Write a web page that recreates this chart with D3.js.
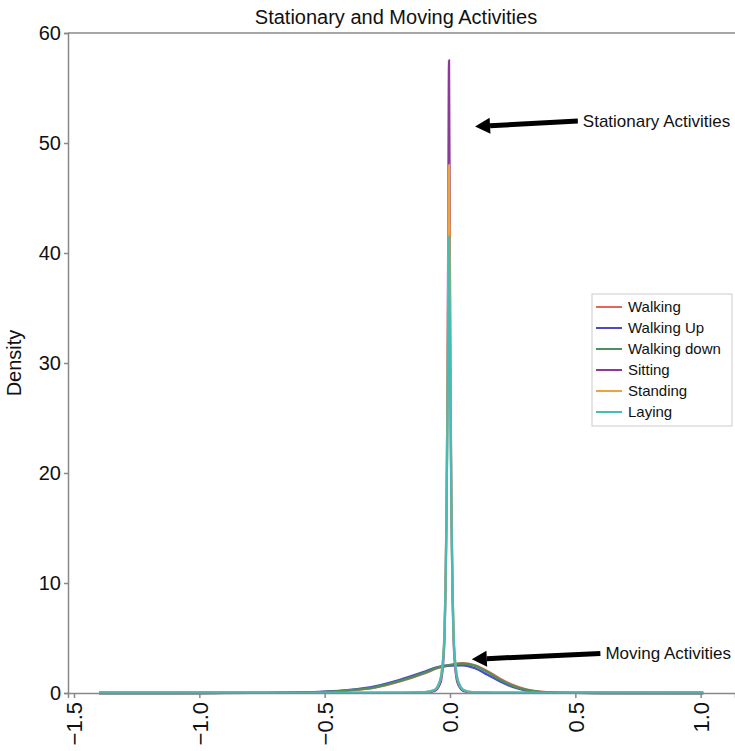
<!DOCTYPE html>
<html>
<head>
<meta charset="utf-8">
<script src="https://cdn.jsdelivr.net/npm/d3@7"></script>
<style>
body { margin: 0; background: #fff; }
svg { display: block; font-family: "Liberation Sans", Arial, sans-serif; }
</style>
</head>
<body>
<div id="chart"></div>
<script>
// series names, in legend order
var seriesNames = ["Walking", "Walking Up", "Walking down", "Sitting", "Standing", "Laying"];
var seriesColors = ["#e0675a", "#4b4bc4", "#4f8f5a", "#8b3a96", "#f0a23c", "#44bdb8"];

// moving activities, density
var moveX = [-1.4, -1.0, -0.8, -0.6, -0.5, -0.4, -0.3, -0.2, -0.1, -0.05, 0, 0.05, 0.1, 0.15, 0.2, 0.25, 0.3, 0.35, 0.4, 0.5, 0.7, 1.01];
var walking     = [0, 0, 0.01, 0.04, 0.1, 0.24, 0.5, 1.05, 1.8, 2.25, 2.52, 2.72, 2.52, 1.98, 1.3, 0.74, 0.35, 0.15, 0.06, 0.01, 0, 0];
var walkingUp   = [0, 0, 0.01, 0.05, 0.12, 0.28, 0.6, 1.2, 1.95, 2.35, 2.5, 2.52, 2.25, 1.65, 1.05, 0.55, 0.25, 0.1, 0.04, 0.01, 0, 0];
var walkingDown = [0, 0, 0.01, 0.04, 0.1, 0.25, 0.52, 1.1, 1.85, 2.3, 2.55, 2.66, 2.46, 1.9, 1.2, 0.65, 0.3, 0.12, 0.05, 0.01, 0, 0];

// stationary activities, very narrow peaks round zero
var statX = [-1.4, -0.5, -0.2, -0.1, -0.06, -0.045, -0.035, -0.028, -0.022, -0.018, -0.014, -0.01, -0.007, -0.004, -0.001, 0.002, 0.006, 0.01, 0.014, 0.02, 0.027, 0.037, 0.052, 0.09, 0.2, 0.5, 1.01];
var sitting  = [0, 0.01, 0.02, 0.05, 0.2, 0.6, 1.2, 2.5, 5, 9, 16, 28, 42, 57.5, 42, 28, 16, 9, 5, 2.5, 1.2, 0.6, 0.2, 0.05, 0.02, 0.01, 0];
var standing = [0, 0.01, 0.03, 0.08, 0.3, 0.8, 1.6, 3, 5.5, 9.5, 16.5, 27, 38, 48, 38, 27, 16.5, 9.5, 5.5, 3, 1.6, 0.8, 0.3, 0.08, 0.03, 0.01, 0];
var laying   = [0, 0.01, 0.03, 0.08, 0.3, 0.8, 1.6, 3, 5.5, 9.5, 16, 25, 34, 41.5, 34, 25, 16, 9.5, 5.5, 3, 1.6, 0.8, 0.3, 0.08, 0.03, 0.01, 0];

var xTicks = [-1.5, -1.0, -0.5, 0.0, 0.5, 1.0];
var yTicks = [0, 10, 20, 30, 40, 50, 60];

// annotations: [label, tail x, tail y, tip x, tip y]
var notes = [
    ["Stationary Activities", 0.51, 52.0, 0.1, 51.5],
    ["Moving Activities", 0.6, 3.6, 0.087, 3.06]
];

var width = 735, height = 751;
var margin = {top: 33, right: 0, bottom: 58, left: 68};

var series = [
    {name: seriesNames[0], xs: moveX, ys: walking},
    {name: seriesNames[1], xs: moveX, ys: walkingUp},
    {name: seriesNames[2], xs: moveX, ys: walkingDown},
    {name: seriesNames[3], xs: statX, ys: sitting},
    {name: seriesNames[4], xs: statX, ys: standing},
    {name: seriesNames[5], xs: statX, ys: laying}
];

var x = d3.scaleLinear().domain([-1.524, 1.137]).range([margin.left, width - margin.right]);
var y = d3.scaleLinear().domain([0, 60]).range([height - margin.bottom, margin.top]);
var color = d3.scaleOrdinal().domain(seriesNames).range(seriesColors);

var svg = d3.select("#chart").append("svg")
    .attr("width", width)
    .attr("height", height);

// frame
svg.append("line")
    .attr("x1", margin.left).attr("x2", width)
    .attr("y1", margin.top).attr("y2", margin.top)
    .attr("stroke", "#888").attr("stroke-width", 1.5);

var line = d3.line()
    .x(function(d) { return x(d[0]); })
    .y(function(d) { return y(d[1]); })
    .curve(d3.curveMonotoneX);

svg.selectAll(".curve")
    .data(series)
    .enter().append("path")
    .attr("class", "curve")
    .attr("fill", "none")
    .attr("stroke", function(d) { return color(d.name); })
    .attr("stroke-width", 2.3)
    .attr("d", function(d) { return line(d.xs.map(function(v, i) { return [v, d.ys[i]]; })); });

// axes
var fmt = d3.format(".1f");
var xAxis = svg.append("g")
    .attr("transform", "translate(0," + (height - margin.bottom) + ")")
    .call(d3.axisBottom(x).tickValues(xTicks).tickFormat(fmt).tickSizeOuter(0).tickSize(5));
xAxis.selectAll("text")
    .attr("font-size", 22)
    .attr("fill", "#111")
    .attr("text-anchor", "end")
    .attr("transform", "rotate(-90)")
    .attr("x", -9).attr("y", 0).attr("dy", "0.36em");

var yAxis = svg.append("g")
    .attr("transform", "translate(" + margin.left + ",0)")
    .call(d3.axisLeft(y).tickValues(yTicks).tickSizeOuter(0).tickSize(4));
yAxis.selectAll("text").attr("font-size", 20).attr("fill", "#111").attr("x", -7);

svg.selectAll(".domain").attr("stroke", "#888").attr("stroke-width", 1.5);
svg.selectAll(".tick line").attr("stroke", "#888").attr("stroke-width", 1.5);

svg.append("text")
    .attr("x", 396).attr("y", 24)
    .attr("text-anchor", "middle")
    .attr("font-size", 20)
    .attr("fill", "#111")
    .text("Stationary and Moving Activities");

svg.append("text")
    .attr("transform", "translate(21," + ((margin.top + height - margin.bottom) / 2) + ") rotate(-90)")
    .attr("text-anchor", "middle")
    .attr("font-size", 20)
    .attr("fill", "#111")
    .text("Density");

// arrows
notes.forEach(function(n) {
    var x0 = x(n[1]), y0 = y(n[2]), x1 = x(n[3]), y1 = y(n[4]);
    var ang = Math.atan2(y1 - y0, x1 - x0);
    var hl = 15, hw = 8;
    var bx = x1 - hl * Math.cos(ang), by = y1 - hl * Math.sin(ang);
    svg.append("line")
        .attr("x1", x0).attr("y1", y0).attr("x2", bx).attr("y2", by)
        .attr("stroke", "#000").attr("stroke-width", 5);
    var px = -Math.sin(ang) * hw, py = Math.cos(ang) * hw;
    svg.append("path")
        .attr("d", "M" + x1 + "," + y1 + "L" + (bx + px) + "," + (by + py) + "L" + (bx - px) + "," + (by - py) + "Z")
        .attr("fill", "#000");
    svg.append("text")
        .attr("x", x0 + 5).attr("y", y0 + 6)
        .attr("font-size", 17)
        .attr("fill", "#111")
        .text(n[0]);
});

// legend
var lg = svg.append("g").attr("transform", "translate(592,294)");
lg.append("rect")
    .attr("width", 140).attr("height", 132)
    .attr("fill", "#fff").attr("stroke", "#ccc");
var item = lg.selectAll(".item")
    .data(seriesNames)
    .enter().append("g")
    .attr("transform", function(d, i) { return "translate(0," + (13 + i * 21) + ")"; });
item.append("line")
    .attr("x1", 4).attr("x2", 30)
    .attr("stroke", function(d) { return color(d); })
    .attr("stroke-width", 2);
item.append("text")
    .attr("x", 36).attr("dy", "0.35em")
    .attr("font-size", 15)
    .attr("fill", "#111")
    .text(function(d) { return d; });
</script>
</body>
</html>
